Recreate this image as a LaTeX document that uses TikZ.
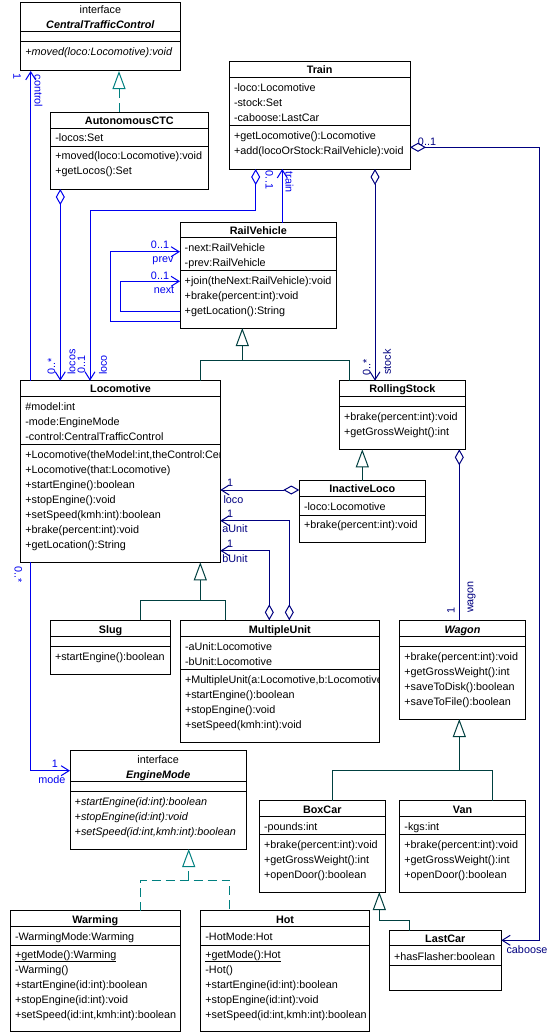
\documentclass[tikz,border=0pt]{standalone}
\usepackage{fontspec}
\setmainfont{Liberation Sans}
\usetikzlibrary{arrows.meta}
\definecolor{lblue}{RGB}{0,0,240}
\definecolor{navy}{RGB}{0,0,128}
\definecolor{genc}{RGB}{0,64,64}
\definecolor{realc}{RGB}{0,128,128}
\newcommand\umlfont{\fontsize{10.8}{15}\selectfont}
\newcommand\umlclass[9]{%
  \node[box, minimum width={#4-#2}, minimum height={#5-#3}] (#1) at (#2,#3) {};
  \draw[sepline] (#2,#6) -- (#4,#6) (#2,#7) -- (#4,#7);
  \node[ttl] (#1-title) at ({(#2+#4)/2},{#8+4}) {#9};
}
\newcommand\rows[4]{%
  \foreach \rowtext [count=\rowi] in {#4}{%
    \node[txt] (#1\rowi) at (#2,{#3+4+15*(\rowi-1)}) {\rowtext};}%
}
\begin{document}
\begin{tikzpicture}[x=1pt,y=-1pt,
  box/.style={draw=black, fill=white, line width=1pt, inner sep=0pt, outer sep=0pt, anchor=north west},
  sepline/.style={draw=black, line width=1pt},
  ttl/.style={inner sep=0pt, anchor=base, font=\umlfont\bfseries},
  txt/.style={inner sep=0pt, anchor=base west, font=\umlfont},
  lbl/.style={inner sep=0pt, font=\umlfont},
  nav/.style={-{Straight Barb[length=8pt,width=10pt]}},
  agg/.style={{Diamond[open,length=16pt,width=9pt]}-{Straight Barb[length=8pt,width=10pt]}},
  aggn/.style={{Diamond[open,length=16pt,width=9pt]}-},
  gtri/.style={-{Triangle[open,length=18pt,width=13pt]}},
  bl/.style={draw=lblue, line width=1pt},
  nv/.style={draw=navy, line width=1pt},
  gen/.style={draw=genc, line width=1pt},
  real/.style={draw=realc, line width=1pt, dash pattern=on 9pt off 5pt}]
\fill[white] (0,0) rectangle (555,1033);
\useasboundingbox (0,0) rectangle (555,1033);

% ---------- classes ----------
\umlclass{ctc}{20.7}{2.7}{180}{71}{32}{42}{25}{\itshape CentralTrafficControl}
\node[ttl, font=\umlfont] (ctc-st) at (100.35,14) {interface};
\rows{ctcm}{25.2}{52}{{\itshape +moved(loco:Locomotive):void}}

\umlclass{actc}{50.7}{112}{208}{189}{128}{146}{120}{AutonomousCTC}
\rows{actca}{55.2}{137}{-locos:Set}
\rows{actcm}{55.2}{155}{+moved(loco:Locomotive):void, +getLocos():Set}

\umlclass{train}{229.3}{62}{410}{169}{77.7}{125.7}{70}{Train}
\rows{traina}{233.8}{87}{-loco:Locomotive, -stock:Set, -caboose:LastCar}
\rows{trainm}{233.8}{135}{+getLocomotive():Locomotive, +add(locoOrStock:RailVehicle):void}

\umlclass{railvehicle}{180}{222.7}{336.7}{328}{237.7}{270.7}{230}{RailVehicle}
\rows{rva}{184.5}{247}{-next:RailVehicle, -prev:RailVehicle}
\rows{rvm}{184.5}{280}{+join(theNext:RailVehicle):void, +brake(percent:int):void, +getLocation():String}

\umlclass{locomotive}{20.7}{380.7}{220.3}{562.3}{396}{444.3}{388.5}{Locomotive}
\rows{loca}{25.2}{406}{\#model:int, -mode:EngineMode, -control:CentralTrafficControl}
\begin{scope}
\clip (21.2,445) rectangle (219.8,562);
\node[txt] (locm0) at (25.2,458) {+Locomotive(theModel:int,theControl:Cen};
\end{scope}
\rows{locm}{25.2}{469}{+Locomotive(that:Locomotive), +startEngine():boolean, +stopEngine():void, +setSpeed(kmh:int):boolean, +brake(percent:int):void, +getLocation():String}

\umlclass{rollingstock}{339.3}{380.7}{465.3}{449.3}{396}{406}{388.5}{RollingStock}
\rows{rsm}{343.8}{416}{+brake(percent:int):void, +getGrossWeight():int}

\umlclass{inactiveloco}{299.3}{480.7}{425.3}{542.3}{496.7}{515}{488.5}{InactiveLoco}
\rows{ila}{303.8}{506}{-loco:Locomotive}
\rows{ilm}{303.8}{524}{+brake(percent:int):void}

\umlclass{slug}{50.3}{620.3}{170.7}{674.3}{636.3}{646.3}{629}{Slug}
\rows{slugm}{54.8}{656}{+startEngine():boolean}

\umlclass{multipleunit}{180.3}{620.3}{379.3}{742}{636.3}{669}{629}{MultipleUnit}
\rows{mua}{184.8}{646}{-aUnit:Locomotive, -bUnit:Locomotive}
\begin{scope}
\clip (180.8,670) rectangle (378.8,741);
\node[txt] (mum0) at (184.8,683) {+MultipleUnit(a:Locomotive,b:Locomotive};
\end{scope}
\rows{mum}{184.8}{694}{+startEngine():boolean, +stopEngine():void, +setSpeed(kmh:int):void}

\umlclass{wagon}{399.7}{620.3}{525.3}{719}{636.3}{646.3}{629}{\itshape Wagon}
\rows{wagonm}{404.2}{656}{+brake(percent:int):void, +getGrossWeight():int, +saveToDisk():boolean, +saveToFile():boolean}

\umlclass{enginemode}{70}{750.7}{246.3}{849}{781.7}{791.7}{774}{\itshape EngineMode}
\node[ttl, font=\umlfont] (em-st) at (158.15,763.5) {interface};
\rows{emm}{74.5}{801}{{\itshape +startEngine(id:int):boolean}, {\itshape +stopEngine(id:int):void}, {\itshape +setSpeed(id:int,kmh:int):boolean}}

\umlclass{boxcar}{259.3}{800.7}{385.3}{892}{816}{834}{809}{BoxCar}
\rows{bca}{263.8}{826}{-pounds:int}
\rows{bcm}{263.8}{844}{+brake(percent:int):void, +getGrossWeight():int, +openDoor():boolean}

\umlclass{van}{399.7}{800.7}{525.3}{892}{816}{834}{809}{Van}
\rows{vana}{404.2}{826}{-kgs:int}
\rows{vanm}{404.2}{844}{+brake(percent:int):void, +getGrossWeight():int, +openDoor():boolean}

\umlclass{lastcar}{389.3}{930.7}{501.3}{990}{945.7}{965}{938.5}{LastCar}
\rows{lca}{393.8}{956}{+hasFlasher:boolean}

\umlclass{warming}{10.3}{910.7}{180.3}{1031.7}{926}{945}{919}{Warming}
\rows{wa}{14.8}{936}{-WarmingMode:Warming}
\rows{wm}{14.8}{954}{{\underline{+getMode():Warming}}, -Warming(), +startEngine(id:int):boolean, +stopEngine(id:int):void, {+setSpeed(id:int,kmh:int):boolean}}

\umlclass{hot}{200.7}{910.7}{369.3}{1031.7}{926}{945}{919}{Hot}
\rows{ha}{205.2}{936}{-HotMode:Hot}
\rows{hm}{205.2}{954}{{\underline{+getMode():Hot}}, -Hot(), +startEngine(id:int):boolean, +stopEngine(id:int):void, {+setSpeed(id:int,kmh:int):boolean}}

% ---------- generalizations / realizations ----------
\draw[real, gtri] (actc.north -| 119,0) -- (ctc.south -| 119,0);
\draw[gen] (locomotive.north -| 200.7,0) -- (200.7,360.7) -| (rollingstock.north -| 349.3,0);
\draw[gen, gtri] (242.3,360.7) -- (railvehicle.south -| 242.3,0);
\draw[gen] (slug.north -| 140.3,0) -- (140.3,600) -| (multipleunit.north -| 225.3,0);
\draw[gen, gtri] (200.3,600) -- (locomotive.south -| 200.3,0);
\draw[gen, gtri] (inactiveloco.north -| 362.3,0) -- (rollingstock.south -| 362.3,0);
\draw[gen] (boxcar.north -| 332.3,0) -- (332.3,770.3) -| (van.north -| 492.3,0);
\draw[gen, gtri] (459.3,770.3) -- (wagon.south -| 459.3,0);
\draw[gen, gtri] (lastcar.north -| 409.3,0) |- (379.3,920.3) -- (boxcar.south -| 379.3,0);
\draw[real] (warming.north -| 140.3,0) -- (140.3,880) -| (hot.north -| 229.3,0);
\draw[real, gtri] (188.7,880) -- (enginemode.south -| 188.7,0);

% ---------- associations ----------
\draw[bl, nav] (locomotive.north -| 30.7,0) -- (ctc.south -| 30.7,0);
\draw[bl, agg] (actc.south -| 60.3,0) -- (locomotive.north -| 60.3,0);
\draw[bl, agg] (train.south -| 255.7,0) |- (90,210.7) -- (locomotive.north -| 90,0);
\draw[bl, nav] (railvehicle.north -| 282.3,0) -- (train.south -| 282.3,0);
\draw[nv, agg] (train.south -| 375,0) -- (rollingstock.north -| 375,0);
\draw[nv, agg] (train.east |- 0,147.3) -| (539.3,940.3) -- (lastcar.east |- 0,940.3);
\draw[bl, nav] (railvehicle.west |- 0,321) -| (110,251.7) -- (railvehicle.west |- 0,251.7);
\draw[bl, nav] (railvehicle.west |- 0,311) -| (120,281.3) -- (railvehicle.west |- 0,281.3);
\draw[nv, agg] (inactiveloco.west |- 0,490) -- (locomotive.east |- 0,490);
\draw[nv, agg] (multipleunit.north -| 289.3,0) |- (locomotive.east |- 0,520.7);
\draw[nv, agg] (multipleunit.north -| 269.3,0) |- (locomotive.east |- 0,550.7);
\draw[nv, aggn] (rollingstock.south -| 459.3,0) -- (wagon.north -| 459.3,0);
\draw[bl, nav] (locomotive.south -| 30.7,0) |- (enginemode.west |- 0,770.7);

% ---------- labels ----------
\node[lbl, text=lblue, rotate=-90] (l-control) at (38.5,91) {control};
\node[lbl, text=lblue, rotate=-90] (l-control1) at (17,77) {1};
\node[lbl, text=lblue, rotate=90] (l-locosm) at (51.5,366) {0..*};
\node[lbl, text=lblue, rotate=90] (l-locos) at (71.5,362) {locos};
\node[lbl, text=lblue, rotate=90] (l-locom) at (81.5,364) {0..1};
\node[lbl, text=lblue, rotate=90] (l-loco) at (103,365) {loco};
\node[lbl, text=lblue, rotate=-90] (l-trainm) at (269.3,180) {0..1};
\node[lbl, text=lblue, rotate=-90] (l-train) at (289.5,182) {train};
\node[lbl, text=navy, rotate=90] (l-stockm) at (366.7,367) {0..*};
\node[lbl, text=navy, rotate=90] (l-stock) at (387,362) {stock};
\node[lbl, text=navy] (l-cabm) at (427,142) {0..1};
\node[lbl, text=navy] (l-cab) at (527,949.5) {caboose};
\node[lbl, text=lblue] (l-prevm) at (160,245) {0..1};
\node[lbl, text=lblue] (l-prev) at (163,261) {prev};
\node[lbl, text=lblue] (l-nextm) at (160,275.5) {0..1};
\node[lbl, text=lblue] (l-next) at (164,290) {next};
\node[lbl, text=navy] (l-ilm) at (230,483) {1};
\node[lbl, text=navy] (l-il) at (233.5,499.5) {loco};
\node[lbl, text=navy] (l-aum) at (230,513.5) {1};
\node[lbl, text=navy] (l-au) at (235,529) {aUnit};
\node[lbl, text=navy] (l-bum) at (230,543.5) {1};
\node[lbl, text=navy] (l-bu) at (235,559) {bUnit};
\node[lbl, text=navy, rotate=90] (l-wagonm) at (451,610) {1};
\node[lbl, text=navy, rotate=90] (l-wagon) at (471.7,597) {wagon};
\node[lbl, text=lblue, rotate=-90] (l-modem) at (18.3,574.5) {0..*};
\node[lbl, text=lblue] (l-mode1) at (55,764) {1};
\node[lbl, text=lblue] (l-mode) at (52,779.5) {mode};
\end{tikzpicture}
\end{document}
